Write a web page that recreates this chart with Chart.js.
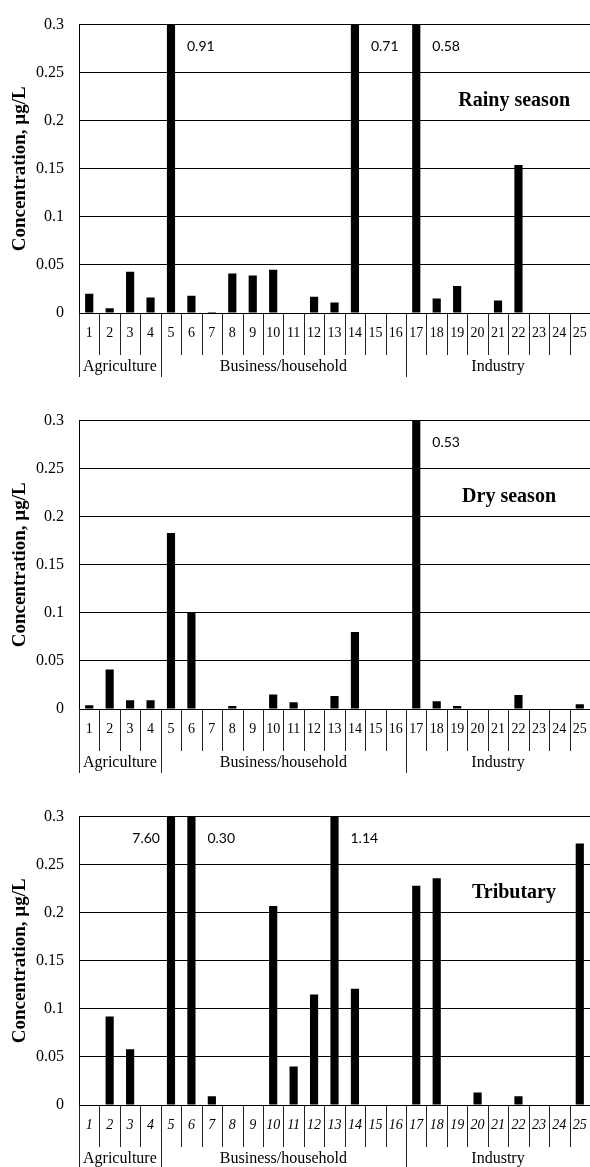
<!DOCTYPE html>
<html>
<head>
<meta charset="utf-8">
<script src="https://cdn.jsdelivr.net/npm/chart.js@4.4.0/dist/chart.umd.min.js"></script>
<style>
  body { margin: 0; background: #fff; }
  .panel { position: relative; width: 590px; height: 396px; }
</style>
</head>
<body>
<div class="panel"><canvas id="rainyChart"></canvas></div>
<div class="panel"><canvas id="dryChart"></canvas></div>
<div class="panel"><canvas id="tribChart"></canvas></div>
<script>
// sampling sites and the land-use group each run of sites belongs to
const sites = ['1', '2', '3', '4', '5', '6', '7', '8', '9', '10', '11', '12', '13',
               '14', '15', '16', '17', '18', '19', '20', '21', '22', '23', '24', '25'];
const groupNames = ['Agriculture', 'Business/household', 'Industry'];
const groupSizes = [4, 12, 9];

const yTickLabels = ['0', '0.05', '0.1', '0.15', '0.2', '0.25', '0.3'];

// concentrations, ug/L
const rainy = [0.020, 0.005, 0.043, 0.016, 0.91, 0.018, 0.001, 0.041, 0.039, 0.045, 0, 0.017, 0.011,
               0.71, 0, 0, 0.58, 0.015, 0.028, 0, 0.013, 0.154, 0, 0, 0];
const dry = [0.004, 0.041, 0.009, 0.009, 0.183, 0.100, 0, 0.003, 0, 0.015, 0.007, 0, 0.0135,
             0.080, 0, 0, 0.53, 0.008, 0.003, 0, 0, 0.0145, 0, 0, 0.005];
const tributary = [0, 0.092, 0.058, 0, 7.60, 0.30, 0.009, 0, 0, 0.207, 0.040, 0.115, 1.14,
                   0.121, 0, 0, 0.228, 0.236, 0, 0.013, 0, 0.009, 0, 0, 0.272];

const SERIF = '"Liberation Serif", "Times New Roman", serif';

// group dividers under the axis, group names, off-scale values and the panel title
const sitePanel = {
    id: 'sitePanel',
    afterDraw(chart, args, opts) {
        const { ctx, chartArea, scales: { x, y } } = chart;
        const values = chart.data.datasets[0].data;
        const step = x.getPixelForValue(1) - x.getPixelForValue(0);
        const bottom = chartArea.bottom;

        const groupStarts = [];
        let acc = 0;
        groupSizes.forEach(n => { groupStarts.push(acc); acc += n; });

        ctx.save();
        ctx.strokeStyle = '#222';
        ctx.lineWidth = 1;
        for (let i = 0; i < sites.length; i++) {
            const left = Math.round(x.getPixelForValue(i) - step / 2) + 0.5;
            const long = groupStarts.includes(i);
            ctx.beginPath();
            ctx.moveTo(left, bottom);
            ctx.lineTo(left, bottom + (long ? 64 : 42));
            ctx.stroke();
        }

        ctx.fillStyle = '#000';
        ctx.font = '16px ' + SERIF;
        ctx.textAlign = 'center';
        ctx.textBaseline = 'middle';
        groupNames.forEach((name, g) => {
            const a = x.getPixelForValue(groupStarts[g]) - step / 2;
            const b = x.getPixelForValue(groupStarts[g] + groupSizes[g] - 1) + step / 2;
            ctx.fillText(name, (a + b) / 2, bottom + 54);
        });

        // bars reaching the top of the axis get their value written beside them
        ctx.font = '14px Lato, "Open Sans", sans-serif';
        values.forEach((v, i) => {
            if (v < y.max) return;
            const cx = x.getPixelForValue(i);
            const onLeft = values[i + 1] >= y.max;
            ctx.textAlign = onLeft ? 'right' : 'left';
            ctx.fillText(v.toFixed(2), cx + (onLeft ? -11 : 16), chartArea.top + 22);
        });

        ctx.font = 'bold 20px ' + SERIF;
        ctx.textAlign = 'right';
        ctx.fillText(opts.title, chartArea.right - opts.titleRight, chartArea.top + 76);
        ctx.restore();
    }
};

function makePanel(id, values, title, titleRight, topPad, italicTicks) {
    new Chart(document.getElementById(id), {
        type: 'bar',
        data: {
            labels: sites,
            datasets: [{
                data: values,
                backgroundColor: '#000',
                barPercentage: 0.4,
                categoryPercentage: 1.0
            }]
        },
        options: {
            responsive: true,
            maintainAspectRatio: false,
            animation: false,
            layout: { padding: { top: topPad, left: 0, right: 0, bottom: 0 } },
            plugins: {
                legend: { display: false },
                tooltip: { enabled: false },
                sitePanel: { title: title, titleRight: titleRight }
            },
            scales: {
                x: {
                    grid: { display: false, drawTicks: false },
                    border: { display: true, color: '#000' },
                    ticks: {
                        color: '#000',
                        autoSkip: false,
                        maxRotation: 0,
                        padding: 12,
                        font: { family: SERIF, size: 14, style: italicTicks ? 'italic' : 'normal' }
                    },
                    afterFit: s => {
                        s.height = 83;
                        s.paddingLeft = 0;
                        s.paddingRight = 0;
                    }
                },
                y: {
                    min: 0,
                    max: 0.3,
                    grid: { color: '#000', lineWidth: 1, drawTicks: false },
                    border: { display: true, color: '#000' },
                    ticks: {
                        stepSize: 0.05,
                        color: '#000',
                        padding: 15,
                        font: { family: SERIF, size: 16 },
                        callback: (v, i) => yTickLabels[i]
                    },
                    title: {
                        display: true,
                        text: 'Concentration, µg/L',
                        color: '#000',
                        font: { family: SERIF, size: 19, weight: 'bold' },
                        padding: { top: 9, bottom: 0 }
                    },
                    afterFit: s => { s.width = 79; }
                }
            }
        },
        plugins: [sitePanel]
    });
}

makePanel('rainyChart', rainy, 'Rainy season', 20, 15, false);
makePanel('dryChart', dry, 'Dry season', 34, 16, false);
makePanel('tribChart', tributary, 'Tributary', 34, 16, true);
</script>
</body>
</html>
